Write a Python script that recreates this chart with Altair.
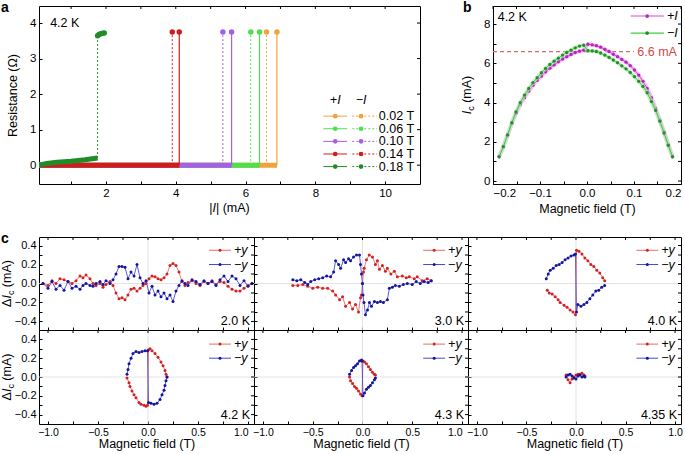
import altair as alt
import pandas as pd

FONT = "Liberation Sans"

# ---------------- panel a : R(|I|) at 4.2 K ----------------
a_fields = ["0.02 T", "0.06 T", "0.10 T", "0.14 T", "0.18 T"]
a_colors = ["#f2a23a", "#4ddf4d", "#a65fe6", "#d01c1c", "#218c27"]
a_ic_plus = [6.90, 6.40, 5.60, 4.10, 1.76]
a_ic_minus = [6.60, 6.15, 5.35, 3.90, 1.76]
a_r_normal = [3.75, 3.75, 3.75, 3.75, 3.64]
a_start_i = 0.05
a_flow_i = [0.05, 0.30, 0.60, 1.00, 1.40, 1.76]
a_flow_r = [-0.01, 0.05, 0.08, 0.11, 0.15, 0.20]
a_top_i = [1.76, 1.80, 1.85, 1.90, 1.95]
a_top_r = [3.64, 3.68, 3.70, 3.71, 3.72]
a_xticks = [1, 2, 3, 4, 5, 6, 7, 8, 9, 10]
a_yticks = [0, 1, 2, 3, 4]

# ---------------- panel b : Ic(B) ----------------
b_field_neg = [-0.187, -0.178, -0.169, -0.160, -0.151, -0.142, -0.133, -0.124, -0.115, -0.106,
               -0.097, -0.088, -0.079, -0.070, -0.061, -0.052, -0.043, -0.034, -0.025, -0.016, -0.007]
b_plus_neg = [1.24, 1.75, 2.33, 2.93, 3.45, 3.90, 4.25, 4.58, 4.88, 5.13,
              5.35, 5.57, 5.75, 5.92, 6.08, 6.22, 6.34, 6.45, 6.55, 6.62, 6.67]
b_minus_neg = [1.24, 1.75, 2.35, 2.97, 3.52, 4.00, 4.38, 4.72, 5.02, 5.27,
               5.52, 5.74, 5.94, 6.11, 6.26, 6.42, 6.55, 6.67, 6.79, 6.88, 6.92]
b_field_pos = [0.002, 0.011, 0.020, 0.029, 0.038, 0.047, 0.056, 0.065, 0.074, 0.083,
               0.092, 0.101, 0.110, 0.119, 0.128, 0.137, 0.146, 0.155, 0.164, 0.173, 0.182]
b_plus_pos = [6.97, 6.94, 6.90, 6.82, 6.71, 6.60, 6.46, 6.34, 6.20, 6.06,
              5.88, 5.66, 5.40, 5.08, 4.72, 4.25, 3.70, 3.10, 2.50, 1.85, 1.24]
b_minus_pos = [6.64, 6.63, 6.60, 6.52, 6.42, 6.30, 6.17, 6.03, 5.87, 5.72,
               5.53, 5.32, 5.08, 4.82, 4.50, 4.05, 3.60, 3.05, 2.45, 1.82, 1.24]
b_ref_current = 6.6
b_xticks = [-0.2, -0.15, -0.1, -0.05, 0.0, 0.05, 0.1, 0.15, 0.2]
b_yticks = [0, 1, 2, 3, 4, 5, 6, 7, 8]

# ---------------- panel c : delta Ic(B) ----------------
c20_field = [-1.05, -1.00, -0.96, -0.92, -0.88, -0.84, -0.80, -0.76, -0.72, -0.68,
             -0.65, -0.62, -0.58, -0.55, -0.52, -0.48, -0.45, -0.42, -0.38, -0.35,
             -0.32, -0.29, -0.26, -0.23, -0.20, -0.17, -0.14, -0.11, -0.08, -0.05,
             -0.02, 0.01, 0.04, 0.07, 0.10, 0.13, 0.16, 0.19, 0.22, 0.25,
             0.28, 0.31, 0.34, 0.37, 0.40, 0.44, 0.48, 0.52, 0.56, 0.60,
             0.64, 0.68, 0.72, 0.76, 0.80, 0.84, 0.88, 0.92, 0.96, 1.00, 1.04]
c20_plus = [0.0, -0.02, 0.03, 0.0, 0.05, 0.04, 0.02, 0.0, 0.03, 0.08,
            0.06, 0.09, 0.05, 0.0, -0.02, 0.0, -0.04, -0.01, 0.02, -0.02,
            -0.10, -0.16, -0.15, -0.17, -0.12, -0.06, -0.05, -0.08, -0.05, -0.02,
            0.0, 0.05, 0.08, 0.07, 0.05, 0.04, 0.06, 0.10, 0.19, 0.21,
            0.19, 0.12, 0.02, -0.02, 0.01, 0.03, 0.0, -0.02, 0.02, 0.0,
            0.03, -0.01, 0.02, 0.01, -0.03, -0.06, -0.08, -0.08, -0.05, -0.02, 0.0]
c20_minus = [0.0, -0.05, 0.02, -0.06, -0.02, -0.07, 0.02, -0.05, -0.03, -0.06,
             -0.02, 0.0, -0.02, -0.03, 0.0, 0.02, -0.01, 0.03, 0.0, 0.04,
             0.10, 0.18, 0.18, 0.17, 0.05, 0.12, 0.08, 0.20, 0.06, 0.0,
             0.03, -0.10, -0.03, -0.12, -0.08, -0.14, -0.10, -0.16, -0.12, -0.19,
             -0.08, -0.02, 0.03, 0.0, -0.02, 0.04, 0.02, -0.01, 0.03, 0.0,
             0.02, -0.02, 0.04, 0.08, 0.02, 0.08, 0.05, -0.02, 0.03, -0.03, 0.0]

c30_field_plus = [-0.70, -0.65, -0.60, -0.55, -0.50, -0.45, -0.40, -0.35, -0.30, -0.27,
                  -0.23, -0.20, -0.17, -0.13, -0.10, -0.07, -0.04, -0.02, -0.01, 0.0,
                  0.01, 0.017, 0.04, 0.067, 0.10, 0.13, 0.15, 0.17, 0.20, 0.23,
                  0.25, 0.285, 0.32, 0.35, 0.40, 0.44, 0.47, 0.52, 0.55, 0.60, 0.65, 0.69]
c30_plus = [-0.02, -0.02, -0.01, -0.03, -0.05, -0.04, -0.05, -0.05, -0.08, -0.12,
            -0.17, -0.14, -0.24, -0.20, -0.27, -0.22, -0.30, -0.15, -0.12, 0.0,
            0.12, 0.16, 0.25, 0.30, 0.28, 0.20, 0.24, 0.15, 0.19, 0.13,
            0.16, 0.10, 0.13, 0.07, 0.08, 0.06, 0.07, 0.05, 0.07, 0.03, 0.05, 0.03]
c30_field_minus = [-0.70, -0.66, -0.62, -0.58, -0.55, -0.52, -0.48, -0.44, -0.40, -0.36,
                   -0.32, -0.29, -0.27, -0.24, -0.22, -0.19, -0.17, -0.14, -0.12, -0.09,
                   -0.06, -0.03, -0.02, -0.01, 0.0, 0.005, 0.015, 0.03, 0.05, 0.07,
                   0.09, 0.12, 0.15, 0.18, 0.21, 0.25, 0.27, 0.30, 0.33, 0.37,
                   0.41, 0.45, 0.50, 0.54, 0.58, 0.62, 0.66, 0.69]
c30_minus = [0.04, 0.03, 0.04, 0.01, -0.01, 0.02, 0.04, 0.05, 0.06, 0.08,
             0.07, 0.12, 0.24, 0.20, 0.16, 0.25, 0.22, 0.26, 0.24, 0.28,
             0.30, 0.30, 0.20, 0.10, 0.0, -0.12, -0.20, -0.33, -0.28, -0.20,
             -0.24, -0.19, -0.20, -0.19, -0.20, -0.17, -0.05, -0.04, -0.02, -0.03,
             -0.01, 0.0, -0.01, 0.02, 0.0, 0.02, 0.01, 0.03]

c40_field_plus = [-0.29, -0.27, -0.24, -0.21, -0.18, -0.16, -0.12, -0.09, -0.06, -0.03, -0.005,
                  0.005, 0.03, 0.06, 0.09, 0.12, 0.15, 0.18, 0.21, 0.24, 0.27, 0.29]
c40_plus = [-0.07, -0.10, -0.11, -0.14, -0.17, -0.20, -0.23, -0.25, -0.28, -0.30, -0.33,
            0.35, 0.34, 0.31, 0.27, 0.24, 0.20, 0.18, 0.14, 0.11, 0.06, 0.03]
c40_field_minus = [-0.30, -0.28, -0.26, -0.23, -0.20, -0.17, -0.14, -0.11, -0.08, -0.05, -0.02, -0.005,
                   0.005, 0.02, 0.05, 0.08, 0.11, 0.14, 0.17, 0.20, 0.23, 0.26, 0.29]
c40_minus = [0.05, 0.10, 0.14, 0.16, 0.19, 0.20, 0.22, 0.25, 0.27, 0.29, 0.30, 0.31,
             -0.30, -0.22, -0.24, -0.22, -0.20, -0.16, -0.12, -0.08, -0.07, -0.04, -0.02]

c42_field_plus = [-0.21, -0.19, -0.18, -0.16, -0.14, -0.12, -0.09, -0.07, -0.04, -0.02, -0.005,
                  0.005, 0.02, 0.04, 0.07, 0.10, 0.13, 0.15, 0.17, 0.18, 0.19]
c42_plus = [-0.01, -0.06, -0.10, -0.15, -0.19, -0.22, -0.27, -0.29, -0.30, -0.31, -0.30,
            0.29, 0.30, 0.28, 0.25, 0.21, 0.16, 0.12, 0.07, 0.03, 0.0]
c42_field_minus = [-0.21, -0.20, -0.19, -0.17, -0.15, -0.12, -0.09, -0.06, -0.03, -0.005,
                   0.005, 0.03, 0.06, 0.09, 0.12, 0.14, 0.16, 0.17, 0.18, 0.19]
c42_minus = [0.03, 0.08, 0.14, 0.20, 0.25, 0.27, 0.26, 0.27, 0.28, 0.28,
             -0.27, -0.28, -0.29, -0.28, -0.24, -0.19, -0.14, -0.09, -0.04, 0.0]

c43_field_plus = [-0.13, -0.12, -0.10, -0.08, -0.06, -0.04, -0.02, -0.005,
                  0.005, 0.02, 0.04, 0.06, 0.08, 0.10, 0.12, 0.13]
c43_plus = [0.0, -0.04, -0.07, -0.10, -0.12, -0.15, -0.18, -0.20,
            0.17, 0.16, 0.14, 0.11, 0.08, 0.05, 0.03, 0.02]
c43_field_minus = [-0.13, -0.11, -0.09, -0.07, -0.05, -0.03, -0.01, -0.005,
                   0.005, 0.02, 0.04, 0.06, 0.08, 0.10, 0.12, 0.13]
c43_minus = [0.03, 0.07, 0.10, 0.12, 0.14, 0.17, 0.18, 0.17,
             -0.20, -0.17, -0.13, -0.11, -0.09, -0.06, -0.03, -0.01]

c435_field = [-0.10, -0.08, -0.06, -0.04, -0.02, 0.0, 0.02, 0.04, 0.06, 0.08, 0.09]
c435_plus = [0.02, -0.03, -0.06, -0.02, 0.0, 0.02, 0.03, 0.03, 0.04, 0.02, 0.01]
c435_minus = [0.0, 0.02, 0.03, 0.01, -0.01, -0.02, 0.01, 0.02, 0.0, 0.01, 0.0]

c_temps = ["2.0 K", "3.0 K", "4.0 K", "4.2 K", "4.3 K", "4.35 K"]
c_xticks = [-1.0, -0.75, -0.5, -0.25, 0.0, 0.25, 0.5, 0.75, 1.0]
c_yticks = [-0.4, -0.3, -0.2, -0.1, 0.0, 0.1, 0.2, 0.3, 0.4]

# ---------------- helpers ----------------
LBL = 11.5
TTL = 12.5
SUB = 9


def tick_expr(k):
    return ("abs(datum.value*%d - round(datum.value*%d)) < 0.001 ? format(datum.value, '.1f') : ''" % (k, k))


def one_text(text, x, y, **kw):
    return alt.Chart(pd.DataFrame({"t": [text]})).mark_text(font=FONT, **kw).encode(
        text="t:N", x=alt.value(x), y=alt.value(y))


def letter(ch, dx):
    return one_text(ch, dx, -5, fontSize=14, fontWeight="bold", align="left", baseline="top")


def rich_title(pieces, x, y, angle):
    """pieces: (text, width_em, gap_before_em, italic, subscript), drawn in sequence and centred on (x, y)."""
    items = []
    for text, w, gap, ital, sub in pieces:
        size = SUB if sub else TTL
        items.append((text, w * size, gap * TTL, ital, sub, size))
    pos = -sum(wd + g for _, wd, g, _, _, _ in items) / 2
    out = []
    for text, wd, g, ital, sub, size in items:
        pos += g
        kw = dict(fontSize=size, align="left", baseline="alphabetic", angle=angle, dx=pos, dy=3 if sub else 0)
        if ital:
            kw["fontStyle"] = "italic"
        out.append(one_text(text, x, y, **kw))
        pos += wd
    return out


def frame_ticks(X, Y, xname, yname, xticks, yticks, width):
    return [
        alt.Chart(pd.DataFrame({xname: xticks})).mark_rule(color="black", strokeWidth=1).encode(
            x=X, y=alt.value(0), y2=alt.value(3)),
        alt.Chart(pd.DataFrame({yname: yticks})).mark_rule(color="black", strokeWidth=1).encode(
            y=Y, x=alt.value(width - 3), x2=alt.value(width)),
    ]


MA_EM = 2.166  # width of "(mA)" in em
SPACE_EM = 0.278

# ---------------- panel a ----------------
AW, AH = 381, 178
xa = alt.Scale(domain=[0.08, 11.0], nice=False, zero=False)
ya = alt.Scale(domain=[-0.53, 4.48], nice=False, zero=False)
XA = alt.X("x:Q", scale=xa, axis=alt.Axis(values=a_xticks,
           labelExpr="datum.value % 2 == 0 ? datum.label : ''", title=None, offset=-3))
YA = alt.Y("y:Q", scale=ya, axis=alt.Axis(values=a_yticks, title="Resistance (Ω)",
           offset=-3, titleX=-23))

a_layers = []
for k in range(5):
    if k == 4:
        base = pd.DataFrame({"x": a_flow_i, "y": a_flow_r})
    else:
        base = pd.DataFrame({"x": [a_start_i, a_ic_plus[k]], "y": [0.0, 0.0]})
    a_layers.append(alt.Chart(base).mark_line(color=a_colors[k], strokeWidth=5, clip=True).encode(x=XA, y=YA))
for k in range(5):
    y0 = a_flow_r[-1] if k == 4 else 0.0
    dm = pd.DataFrame({"x": [a_ic_minus[k]] * 2, "y": [y0, a_r_normal[k]]})
    a_layers.append(alt.Chart(dm).mark_line(color=a_colors[k], strokeWidth=1, strokeDash=[2, 2]).encode(x=XA, y=YA))
    if k < 4:
        ds = pd.DataFrame({"x": [a_ic_plus[k]] * 2, "y": [0.0, a_r_normal[k]]})
        a_layers.append(alt.Chart(ds).mark_line(color=a_colors[k], strokeWidth=1.2).encode(x=XA, y=YA))
        tp = pd.DataFrame({"x": [a_ic_minus[k], a_ic_plus[k]], "y": [a_r_normal[k]] * 2})
        a_layers.append(alt.Chart(tp).mark_circle(color=a_colors[k], size=30, opacity=1).encode(x=XA, y=YA))
    else:
        tp = pd.DataFrame({"x": a_top_i, "y": a_top_r})
        a_layers.append(alt.Chart(tp).mark_line(color=a_colors[k], strokeWidth=4).encode(x=XA, y=YA))
        a_layers.append(alt.Chart(tp).mark_circle(color=a_colors[k], size=30, opacity=1).encode(x=XA, y=YA))

a_leg_y = [1.38 - 0.355 * k for k in range(5)]
acol = alt.Color("field:N", scale=alt.Scale(domain=a_fields, range=a_colors), legend=None)


def a_leg(x, x2=None):
    d = pd.DataFrame({"field": a_fields, "y": a_leg_y})
    d["x"] = x
    if x2 is not None:
        d["x2"] = x2
    return d


a_layers += [
    alt.Chart(a_leg(8.23, 8.91)).mark_rule(strokeWidth=1).encode(x=XA, x2="x2:Q", y=YA, color=acol),
    alt.Chart(a_leg(9.06, 9.77)).mark_rule(strokeWidth=1, strokeDash=[2, 2]).encode(
        x=XA, x2="x2:Q", y=YA, color=acol),
    alt.Chart(a_leg(8.57)).mark_circle(size=22, opacity=1).encode(x=XA, y=YA, color=acol),
    alt.Chart(a_leg(9.31)).mark_circle(size=22, opacity=1).encode(x=XA, y=YA, color=acol),
    alt.Chart(a_leg(9.82)).mark_text(font=FONT, fontSize=TTL, align="left", baseline="middle").encode(
        x=XA, y=YA, text="field:N"),
    alt.Chart(pd.DataFrame({"x": [8.57, 9.31], "y": [1.84, 1.84], "t": ["+I", "−I"]})).mark_text(
        font=FONT, fontSize=TTL, fontStyle="italic", baseline="middle").encode(x=XA, y=YA, text="t:N"),
    alt.Chart(pd.DataFrame({"x": [0.4], "y": [4.0], "t": ["4.2 K"]})).mark_text(
        font=FONT, fontSize=TTL, align="left", baseline="middle").encode(x=XA, y=YA, text="t:N"),
    letter("a", -38),
]
a_layers += frame_ticks(XA, YA, "x", "y", a_xticks, a_yticks, AW)
a_layers += rich_title([("|", 0.26, 0, False, False), ("I", 0.278, 0, True, False),
                        ("|", 0.26, 0, False, False), ("(mA)", MA_EM, SPACE_EM, False, False)],
                       AW / 2, AH + 28, 0)
chart_a = alt.layer(*a_layers).properties(width=AW, height=AH)

# ---------------- panel b ----------------
BW, BH = 188, 178
xb = alt.Scale(domain=[-0.2, 0.2], nice=False, zero=False)
yb = alt.Scale(domain=[-0.15, 8.92], nice=False, zero=False)
XB = alt.X("B:Q", scale=xb, axis=alt.Axis(values=b_xticks,
           labelExpr=tick_expr(10), title="Magnetic field (T)", offset=-3))
YB = alt.Y("I:Q", scale=yb, axis=alt.Axis(values=b_yticks,
           labelExpr="datum.value % 2 == 0 ? datum.label : ''", title=None, offset=-3))

b_p = pd.DataFrame({"B": b_field_neg + b_field_pos, "I": b_plus_neg + b_plus_pos})
b_m = pd.DataFrame({"B": b_field_neg + b_field_pos, "I": b_minus_neg + b_minus_pos})
b_layers = [
    alt.Chart(pd.DataFrame({"B": [-0.2], "B2": [0.1], "I": [b_ref_current]})).mark_rule(
        color="#d46a6a", strokeWidth=1.2, strokeDash=[4, 3]).encode(x=XB, x2="B2:Q", y=YB),
    alt.Chart(b_p).mark_line(color="#f6a6f6", strokeWidth=4, opacity=0.7).encode(x=XB, y=YB),
    alt.Chart(b_p).mark_line(color="#dd44dd", strokeWidth=1).encode(x=XB, y=YB),
    alt.Chart(b_p).mark_circle(color="#b02ab8", size=11, opacity=1).encode(x=XB, y=YB),
    alt.Chart(b_m).mark_line(color="#aef0ae", strokeWidth=4, opacity=0.7).encode(x=XB, y=YB),
    alt.Chart(b_m).mark_line(color="#44cc44", strokeWidth=1).encode(x=XB, y=YB),
    alt.Chart(b_m).mark_circle(color="#2d8a34", size=11, opacity=1).encode(x=XB, y=YB),
    alt.Chart(pd.DataFrame({"B": [0.107], "I": [b_ref_current], "t": ["6.6 mA"]})).mark_text(
        font=FONT, fontSize=TTL, color="#d04a4a", align="left", baseline="middle").encode(x=XB, y=YB, text="t:N"),
    alt.Chart(pd.DataFrame({"B": [-0.19], "I": [8.35], "t": ["4.2 K"]})).mark_text(
        font=FONT, fontSize=TTL, align="left", baseline="middle").encode(x=XB, y=YB, text="t:N"),
]
b_leg_labels = ["+I", "−I"]
b_leg_y = [8.41, 7.54]
bcol = alt.Color("t:N", scale=alt.Scale(domain=b_leg_labels, range=["#dd44dd", "#44cc44"]), legend=None)
bcol2 = alt.Color("t:N", scale=alt.Scale(domain=b_leg_labels, range=["#b02ab8", "#2d8a34"]), legend=None)


def b_leg(x, x2=None):
    d = pd.DataFrame({"t": b_leg_labels, "I": b_leg_y})
    d["B"] = x
    if x2 is not None:
        d["B2"] = x2
    return d


b_layers += [
    alt.Chart(b_leg(0.093, 0.164)).mark_rule(strokeWidth=1.2).encode(x=XB, x2="B2:Q", y=YB, color=bcol),
    alt.Chart(b_leg(0.128)).mark_circle(size=14, opacity=1).encode(x=XB, y=YB, color=bcol2),
    alt.Chart(b_leg(0.17)).mark_text(font=FONT, fontSize=TTL, fontStyle="italic", align="left",
                                     baseline="middle").encode(x=XB, y=YB, text="t:N"),
    letter("b", -30),
]
b_layers += frame_ticks(XB, YB, "B", "I", b_xticks, b_yticks, BW)
b_layers += rich_title([("I", 0.278, 0, True, False), ("c", 0.5, 0, False, True),
                        ("(mA)", MA_EM, SPACE_EM, False, False)], -22, BH / 2, 270)
chart_b = alt.layer(*b_layers).resolve_scale(color="independent").properties(width=BW, height=BH)

# ---------------- panel c ----------------
c_sets = [
    (c20_field, c20_plus, c20_field, c20_minus),
    (c30_field_plus, c30_plus, c30_field_minus, c30_minus),
    (c40_field_plus, c40_plus, c40_field_minus, c40_minus),
    (c42_field_plus, c42_plus, c42_field_minus, c42_minus),
    (c43_field_plus, c43_plus, c43_field_minus, c43_minus),
    (c435_field, c435_plus, c435_field, c435_minus),
]
c_leg_labels = ["+y", "−y"]
c_leg_y = [0.35, 0.2]


def c_leg(x, x2=None):
    d = pd.DataFrame({"t": c_leg_labels, "v": c_leg_y})
    d["B"] = x
    if x2 is not None:
        d["B2"] = x2
    return d


def c_panel(idx):
    row, col = divmod(idx, 3)
    bp, vp, bm, vm = c_sets[idx]
    width = [215, 214, 213][col]
    height = 93 if row == 0 else 94
    lim = 0.49 if row == 0 else 0.5
    xs = alt.Scale(domain=[-1.09, 1.06], nice=False, zero=False)
    ys = alt.Scale(domain=[-lim, lim], nice=False, zero=False)
    if row == 1:
        xkw = dict(values=c_xticks, labelExpr=tick_expr(2), title="Magnetic field (T)", offset=-3,
                   labelFontSize=10.5, titlePadding=0)
        if col < 2:
            # the "1.0" label meets the neighbouring panel's "−1.0" at the shared border
            xkw["labelAlign"] = {"condition": {"test": "datum.value > 0.99", "value": "right"},
                                 "value": "center"}
        xax = alt.Axis(**xkw)
    else:
        xax = alt.Axis(values=c_xticks, labels=False, title=None, offset=-3)
    if col == 0:
        yax = alt.Axis(values=c_yticks, labelExpr=tick_expr(5), title=None, offset=-3, labelFontSize=11)
    else:
        yax = alt.Axis(values=c_yticks, labels=False, title=None, offset=-3)
    X = alt.X("B:Q", scale=xs, axis=xax)
    Y = alt.Y("v:Q", scale=ys, axis=yax)
    red = pd.DataFrame({"B": bp, "v": vp})
    blue = pd.DataFrame({"B": bm, "v": vm})
    lc = alt.Color("t:N", scale=alt.Scale(domain=c_leg_labels, range=["#e86a6a", "#4a4ac8"]), legend=None)
    pc = alt.Color("t:N", scale=alt.Scale(domain=c_leg_labels, range=["#d42020", "#1414a0"]), legend=None)
    layers = [
        alt.Chart(pd.DataFrame({"B": [0.0]})).mark_rule(color="#dcdcdc", strokeWidth=0.8).encode(x=X),
        alt.Chart(pd.DataFrame({"v": [0.0]})).mark_rule(color="#dcdcdc", strokeWidth=0.8).encode(y=Y),
        alt.Chart(red).mark_line(color="#e86a6a", strokeWidth=0.9).encode(x=X, y=Y),
        alt.Chart(red).mark_circle(color="#d42020", size=9, opacity=1).encode(x=X, y=Y),
        alt.Chart(blue).mark_line(color="#4a4ac8", strokeWidth=0.9).encode(x=X, y=Y),
        alt.Chart(blue).mark_circle(color="#1414a0", size=9, opacity=1).encode(x=X, y=Y),
        alt.Chart(c_leg(0.61, 0.83)).mark_rule(strokeWidth=1).encode(x=X, x2="B2:Q", y=Y, color=lc),
        alt.Chart(c_leg(0.72)).mark_circle(size=9, opacity=1).encode(x=X, y=Y, color=pc),
        alt.Chart(c_leg(0.86)).mark_text(font=FONT, fontSize=TTL, fontStyle="italic", align="left",
                                         baseline="middle").encode(x=X, y=Y, text="t:N"),
        alt.Chart(pd.DataFrame({"B": [1.02], "v": [-0.4], "t": [c_temps[idx]]})).mark_text(
            font=FONT, fontSize=TTL, align="right", baseline="middle").encode(x=X, y=Y, text="t:N"),
    ]
    layers += frame_ticks(X, Y, "B", "v", c_xticks, c_yticks, width)
    if col == 0:
        layers += rich_title([("Δ", 0.668, 0, False, False), ("I", 0.278, 0, True, False),
                              ("c", 0.5, 0, False, True), ("(mA)", MA_EM, SPACE_EM, False, False)],
                             -28, height / 2, 270)
    if idx == 0:
        layers.append(letter("c", -38))
    return alt.layer(*layers).resolve_scale(color="independent").properties(width=width, height=height)


panels = [c_panel(i) for i in range(6)]
cgrid = alt.concat(*panels, columns=3, spacing=0, bounds="flush").resolve_scale(
    x="independent", y="independent")
top = alt.hconcat(chart_a, chart_b, spacing=73, bounds="flush").resolve_scale(
    x="independent", y="independent")

chart = alt.vconcat(top, cgrid, spacing=15).resolve_scale(
    x="independent", y="independent"
).properties(
    padding={"left": 0, "top": 0, "right": 0, "bottom": 0}
).configure_view(
    stroke="black", strokeWidth=1
).configure_axis(
    labelFont=FONT, titleFont=FONT, labelFontSize=LBL, titleFontSize=TTL,
    labelColor="black", titleColor="black", tickColor="black", tickSize=3,
    domain=False, grid=False, titleFontWeight="normal", labelPadding=3
)

chart.save("out.html", embed_options={"renderer": "svg", "actions": False})
